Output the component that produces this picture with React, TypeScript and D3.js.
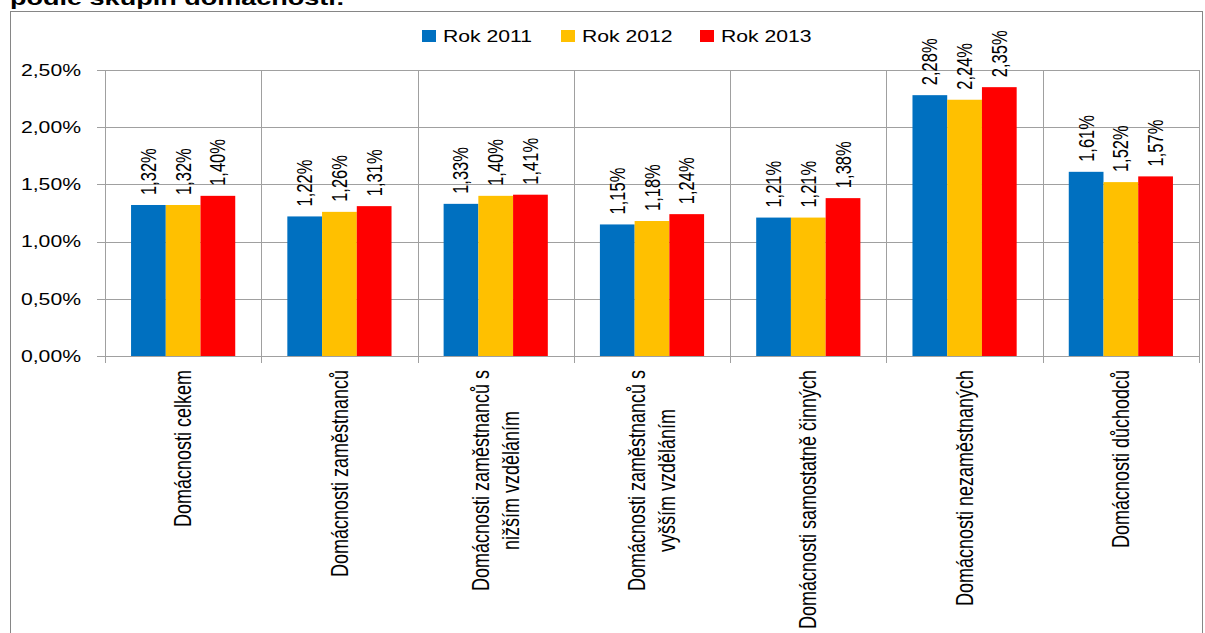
import React, { useEffect, useRef } from "react";
import * as d3 from "d3";

// Household groups (label lines) and yearly values in percent
const categories = [
  "Domácnosti celkem",
  "Domácnosti zaměstnanců",
  "Domácnosti zaměstnanců s\nnižším vzděláním",
  "Domácnosti zaměstnanců s\nvyšším vzděláním",
  "Domácnosti samostatně činných",
  "Domácnosti nezaměstnaných",
  "Domácnosti důchodců",
];
const seriesNames = ["Rok 2011", "Rok 2012", "Rok 2013"];
const rok2011 = [1.32, 1.22, 1.33, 1.15, 1.21, 2.28, 1.61];
const rok2012 = [1.32, 1.26, 1.4, 1.18, 1.21, 2.24, 1.52];
const rok2013 = [1.4, 1.31, 1.41, 1.24, 1.38, 2.35, 1.57];
const yTicks = [0, 0.5, 1, 1.5, 2, 2.5];
const titleText = "podle skupin domácností:";

const colors = ["#0070C0", "#FFC000", "#FF0000"];
const FONT = "'Liberation Sans', Arial, sans-serif";
const SX = 1.3; // horizontal stretch of all lettering

const W = 1205;
const H = 633;

function pct(v: number): string {
  return v.toFixed(2).replace(".", ",") + "%";
}

export default function App() {
  const ref = useRef<SVGSVGElement | null>(null);

  useEffect(() => {
    const svg = d3.select(ref.current);
    svg.selectAll("*").remove();

    const plot = { left: 105, right: 1199, top: 70, bottom: 356 };
    const series = [rok2011, rok2012, rok2013];

    const x = d3
      .scaleBand<string>()
      .domain(categories)
      .range([plot.left, plot.right])
      .paddingInner(0)
      .paddingOuter(0);
    const xs = d3
      .scaleBand<string>()
      .domain(seriesNames)
      .range([0, x.bandwidth()])
      .paddingInner(0)
      .paddingOuter(0.75);
    const y = d3.scaleLinear().domain([0, 2.5]).range([plot.bottom, plot.top]);

    // chart frame
    svg
      .append("rect")
      .attr("x", 10.5)
      .attr("y", 11.5)
      .attr("width", 1192)
      .attr("height", 700)
      .attr("fill", "#fff")
      .attr("stroke", "#868686")
      .attr("stroke-width", 1);

    // title (partly above the frame)
    svg
      .append("text")
      .attr("transform", `translate(10,5) scale(${SX},1)`)
      .attr("font-family", FONT)
      .attr("font-weight", "bold")
      .attr("font-size", 20.8)
      .attr("fill", "#000")
      .text(titleText);

    const gridColor = "#a0a0a0";

    // horizontal gridlines with ticks on the left
    svg
      .append("g")
      .selectAll("line")
      .data(yTicks)
      .join("line")
      .attr("x1", plot.left - 8)
      .attr("x2", plot.right)
      .attr("y1", (d) => Math.round(y(d)) + 0.5)
      .attr("y2", (d) => Math.round(y(d)) + 0.5)
      .attr("stroke", gridColor)
      .attr("stroke-width", 1);

    // vertical category gridlines, extending below the axis as ticks
    const bounds = categories.map((c) => x(c) as number).concat([plot.right]);
    svg
      .append("g")
      .selectAll("line")
      .data(bounds)
      .join("line")
      .attr("x1", (d) => Math.round(d) + 0.5)
      .attr("x2", (d) => Math.round(d) + 0.5)
      .attr("y1", plot.top)
      .attr("y2", plot.bottom + 7)
      .attr("stroke", gridColor)
      .attr("stroke-width", 1);

    // y tick labels
    svg
      .append("g")
      .selectAll("text")
      .data(yTicks)
      .join("text")
      .attr("transform", (d) => `translate(81,${y(d)}) scale(${SX},1)`)
      .attr("text-anchor", "end")
      .attr("dy", "0.35em")
      .attr("font-family", FONT)
      .attr("font-size", 16.3)
      .attr("fill", "#000")
      .text((d) => pct(d));

    // bars
    series.forEach((vals, si) => {
      svg
        .append("g")
        .selectAll("rect")
        .data(vals)
        .join("rect")
        .attr("x", (_, i) => (x(categories[i]) as number) + (xs(seriesNames[si]) as number))
        .attr("width", xs.bandwidth())
        .attr("y", (d) => y(d))
        .attr("height", (d) => y(0) - y(d))
        .attr("fill", colors[si]);
    });

    // data labels, rotated
    series.forEach((vals, si) => {
      svg
        .append("g")
        .selectAll("text")
        .data(vals)
        .join("text")
        .attr("transform", (d, i) => {
          const cx = (x(categories[i]) as number) + (xs(seriesNames[si]) as number) + xs.bandwidth() / 2;
          return `translate(${cx},${y(d) - 10}) scale(${SX},1) rotate(-90)`;
        })
        .attr("text-anchor", "start")
        .attr("dy", "0.35em")
        .attr("font-family", FONT)
        .attr("font-size", 16.5)
        .attr("fill", "#000")
        .text((d) => pct(d));
    });

    // category labels, rotated, top-aligned below the axis
    categories.forEach((c) => {
      const lines = c.split("\n");
      const cx = (x(c) as number) + x.bandwidth() / 2;
      const g = svg
        .append("g")
        .attr("transform", `translate(${cx},370) scale(${SX},1) rotate(-90)`);
      const texts = lines.map((ln) =>
        g
          .append("text")
          .attr("font-family", FONT)
          .attr("font-size", 18)
          .attr("fill", "#000")
          .attr("dy", "0.35em")
          .text(ln)
      );
      const maxLen = d3.max(texts, (t) => (t.node() as SVGTextElement).getComputedTextLength()) || 0;
      const step = 23;
      texts.forEach((t, i) => {
        const off = (i - (lines.length - 1) / 2) * step;
        t.attr("text-anchor", "middle").attr("x", -maxLen / 2).attr("y", off);
      });
    });

    // legend
    const legendX = [422, 561, 700];
    seriesNames.forEach((name, i) => {
      svg
        .append("rect")
        .attr("x", legendX[i])
        .attr("y", 30)
        .attr("width", 14)
        .attr("height", 12)
        .attr("fill", colors[i]);
      svg
        .append("text")
        .attr("transform", `translate(${legendX[i] + 21},41.5) scale(${SX},1)`)
        .attr("font-family", FONT)
        .attr("font-size", 16.3)
        .attr("fill", "#000")
        .text(name);
    });
  }, []);

  return (
    <svg
      ref={ref}
      width={W}
      height={H}
      style={{ position: "absolute", left: 0, top: 0, background: "#fff" }}
    />
  );
}
